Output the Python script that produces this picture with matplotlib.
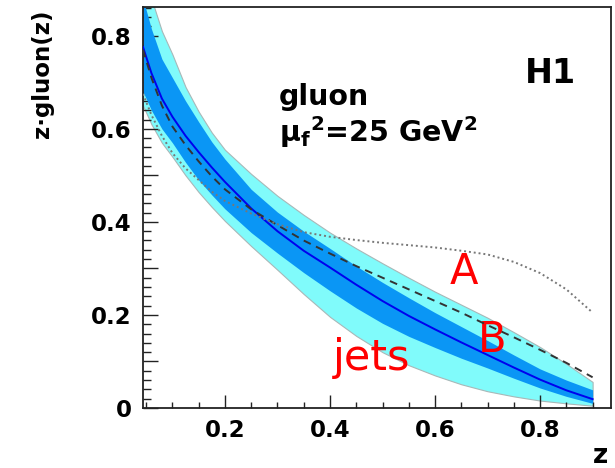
import matplotlib.pyplot as plt
from matplotlib.ticker import MultipleLocator, FuncFormatter

# valores (z, z*gluon)
z = [0.044, 0.06, 0.08, 0.1, 0.125, 0.15, 0.175, 0.2, 0.25, 0.3, 0.35, 0.4,
     0.45, 0.5, 0.55, 0.6, 0.65, 0.7, 0.75, 0.8, 0.85, 0.9]
central = [0.776, 0.72, 0.665, 0.626, 0.585, 0.55, 0.517, 0.486, 0.429, 0.38, 0.338, 0.302,
           0.265, 0.23, 0.198, 0.169, 0.141, 0.114, 0.087, 0.061, 0.038, 0.019]
oscuro_sup = [0.88, 0.815, 0.75, 0.71, 0.66, 0.615, 0.572, 0.535, 0.47, 0.421, 0.38, 0.343,
              0.305, 0.27, 0.237, 0.205, 0.175, 0.145, 0.114, 0.084, 0.06, 0.039]
oscuro_inf = [0.68, 0.64, 0.6, 0.57, 0.528, 0.49, 0.458, 0.428, 0.377, 0.333, 0.291, 0.252,
              0.215, 0.182, 0.154, 0.13, 0.107, 0.086, 0.064, 0.043, 0.025, 0.01]
claro_sup = [0.95, 0.88, 0.81, 0.76, 0.69, 0.637, 0.592, 0.555, 0.503, 0.456, 0.415, 0.377,
             0.343, 0.311, 0.28, 0.25, 0.222, 0.194, 0.163, 0.131, 0.095, 0.056]
claro_inf = [0.65, 0.61, 0.57, 0.54, 0.5, 0.464, 0.432, 0.402, 0.348, 0.297, 0.245, 0.196,
             0.155, 0.12, 0.092, 0.07, 0.051, 0.036, 0.025, 0.016, 0.01, 0.005]
guion = [0.77, 0.71, 0.65, 0.605, 0.565, 0.53, 0.498, 0.47, 0.427, 0.393, 0.36, 0.332,
         0.305, 0.28, 0.255, 0.23, 0.205, 0.178, 0.152, 0.125, 0.097, 0.066]
punteada = [0.675, 0.63, 0.585, 0.548, 0.515, 0.49, 0.465, 0.445, 0.418, 0.395, 0.378, 0.368,
            0.361, 0.355, 0.35, 0.345, 0.338, 0.33, 0.314, 0.29, 0.255, 0.205]

fig = plt.figure(figsize=(6.15, 4.68), dpi=100)
ax = fig.add_axes([0.2325, 0.1282, 0.761, 0.857])

ax.fill_between(z, claro_inf, claro_sup, color="#80fbfb", edgecolor="#a8b8b8", linewidth=0.8, zorder=1)
ax.fill_between(z, oscuro_inf, oscuro_sup, color="#0a96f5", linewidth=0, zorder=2)
ax.plot(z, central, color="#0000ee", linewidth=1.4, zorder=3)
ax.plot(z, guion, color="#333333", linewidth=1.4, linestyle=(0, (4, 3)), zorder=4)
ax.plot(z, punteada, color="#777777", linewidth=1.4, linestyle=(0, (1, 1.5)), zorder=4)

ax.set_xlim(0.044, 0.935)
ax.set_ylim(0, 0.862)

for s in ax.spines.values():
    s.set_linewidth(1.3)
    s.set_color("#222222")

ax.xaxis.set_major_locator(MultipleLocator(0.2))
ax.xaxis.set_minor_locator(MultipleLocator(0.05))
ax.yaxis.set_major_locator(MultipleLocator(0.1))
ax.yaxis.set_minor_locator(MultipleLocator(0.02))


def etiqueta_y(v, pos):
    k = int(round(v * 10))
    if k % 2 != 0:
        return ""
    if k == 0:
        return "0"
    return f"{v:.1f}"


ax.yaxis.set_major_formatter(FuncFormatter(etiqueta_y))
ax.tick_params(axis="both", which="both", direction="in", width=1.0, color="#222222",
               labelsize=16.5)
ax.tick_params(axis="y", which="major", length=11, pad=8)
ax.tick_params(axis="y", which="minor", length=5.5)
ax.tick_params(axis="x", which="major", length=9.5, pad=8)
ax.tick_params(axis="x", which="minor", length=4.5)
for t in ax.get_xticklabels() + ax.get_yticklabels():
    t.set_fontweight("bold")

etiq_x = ax.set_xlabel("z", loc="right", fontsize=19, fontweight="bold")
etiq_x.set_verticalalignment("baseline")
ax.xaxis.set_label_coords(0.994, -0.137)
ax.set_ylabel("z·gluon(z)", loc="top", fontsize=16.5, fontweight="bold")
ax.yaxis.set_label_coords(-0.19, 0.993)

ax.text(0.869, 0.699, "H1", fontsize=24, fontweight="bold", ha="right", va="baseline")
ax.text(0.303, 0.652, "gluon", fontsize=20.5, fontweight="bold", va="baseline")
ax.text(0.303, 0.572, r"μ$_\mathbf{f}{}^\mathbf{2}$=25 GeV$^\mathbf{2}$",
        fontsize=20.5, fontweight="bold", va="baseline")

ax.text(0.655, 0.292, "A", fontsize=30, color="red", ha="center", va="center")
ax.text(0.709, 0.146, "B", fontsize=30, color="red", ha="center", va="center")
ax.text(0.406, 0.082, "jets", fontsize=31, color="red", va="baseline")

plt.savefig("out.png", dpi=100)
